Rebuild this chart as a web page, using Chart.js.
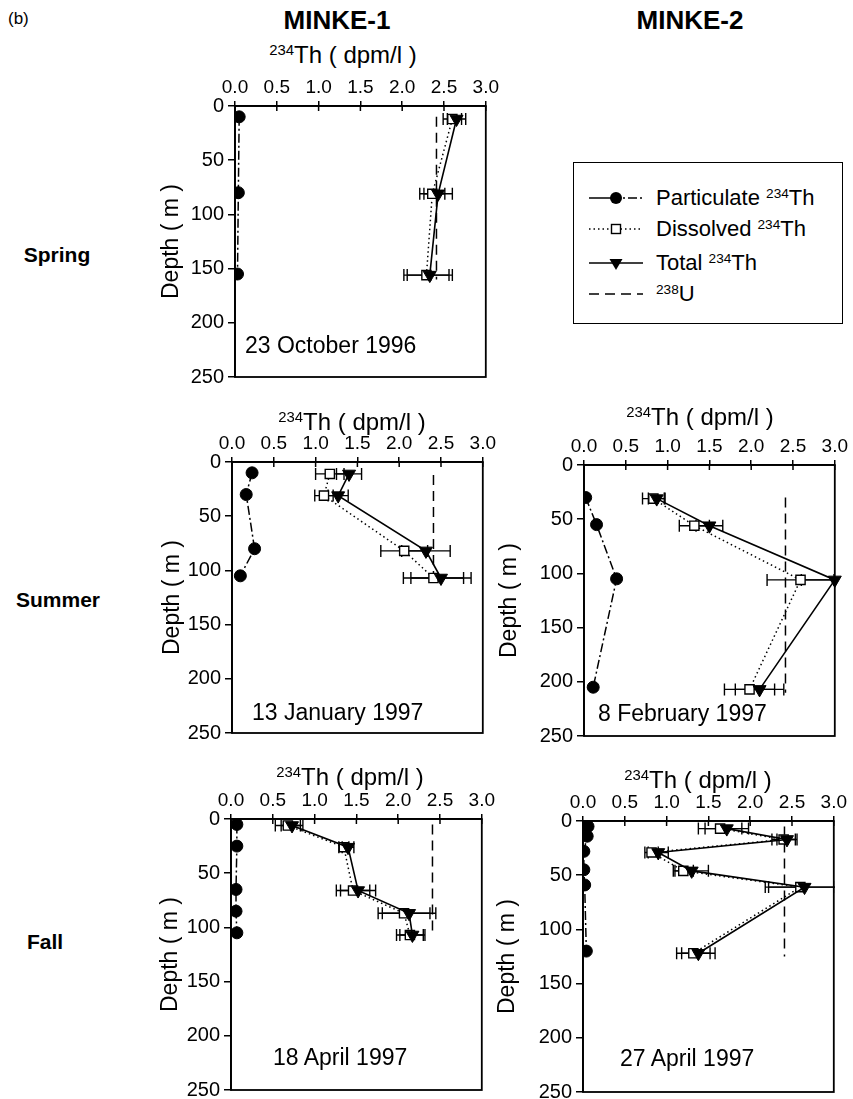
<!DOCTYPE html>
<html>
<head>
<meta charset="utf-8">
<title>234Th profiles at MINKE-1 and MINKE-2</title>
<script src="https://cdn.jsdelivr.net/npm/chart.js@4.4.1/dist/chart.umd.min.js"></script>
<style>
  html, body { margin: 0; padding: 0; background: #fff; }
  body { width: 853px; height: 1099px; position: relative; overflow: hidden;
         font-family: "Liberation Sans", Arial, Helvetica, sans-serif; color: #000; }
  canvas { position: absolute; }
  .t { position: absolute; white-space: nowrap; line-height: 1; }
  .c { transform: translate(-50%, -50%); }
  .l { transform: translateY(-50%); }
  .bold { font-weight: bold; }
  .sup { font-size: 0.62em; position: relative; top: -0.55em; }
  .legend { position: absolute; border: 1.6px solid #000; box-sizing: border-box; }
  .legend svg { position: absolute; }
</style>
</head>
<body>
<script>
// 238U activity (dpm/l), drawn as a vertical reference line
const U238 = 2.41;

// Spring, MINKE-1, 23 October 1996
const springM1PartDepth = [10, 80, 155];
const springM1Part      = [0.05, 0.04, 0.03];
const springM1Depth     = [12, 81, 156];
const springM1Diss      = [2.60, 2.36, 2.29];
const springM1DissErr   = [0.11, 0.15, 0.27];
const springM1Total     = [2.65, 2.43, 2.33];
const springM1TotalErr  = [0.11, 0.17, 0.27];
const springM1UDepth    = [10, 160];

// Summer, MINKE-1, 13 January 1997
const summerM1PartDepth = [10, 30, 80, 105];
const summerM1Part      = [0.24, 0.17, 0.27, 0.10];
const summerM1Depth     = [11, 31, 82, 107];
const summerM1Diss      = [1.17, 1.10, 2.06, 2.41];
const summerM1DissErr   = [0.17, 0.11, 0.28, 0.36];
const summerM1Total     = [1.40, 1.27, 2.32, 2.50];
const summerM1TotalErr  = [0.15, 0.12, 0.29, 0.36];
const summerM1UDepth    = [12, 115];

// Summer, MINKE-2, 8 February 1997
const summerM2PartDepth = [30, 55, 105, 205];
const summerM2Part      = [0.02, 0.15, 0.39, 0.11];
const summerM2Depth     = [31, 56, 106, 207];
const summerM2Diss      = [0.83, 1.32, 2.59, 1.98];
const summerM2DissErr   = [0.13, 0.18, 0.40, 0.30];
const summerM2Total     = [0.87, 1.50, 3.00, 2.10];
const summerM2TotalErr  = [0.10, 0.16, 0.40, 0.29];
const summerM2UDepth    = [30, 210];

// Fall, MINKE-1, 18 April 1997
const fallM1PartDepth = [5, 25, 65, 85, 105];
const fallM1Part      = [0.07, 0.07, 0.06, 0.06, 0.07];
const fallM1Depth     = [6, 26, 66, 87, 107];
const fallM1Diss      = [0.68, 1.35, 1.46, 2.07, 2.14];
const fallM1DissErr   = [0.15, 0.06, 0.20, 0.31, 0.16];
const fallM1Total     = [0.73, 1.40, 1.52, 2.13, 2.17];
const fallM1TotalErr  = [0.13, 0.07, 0.21, 0.32, 0.15];
const fallM1UDepth    = [5, 108];

// Fall, MINKE-2, 27 April 1997
const fallM2PartDepth = [5, 14, 28, 45, 59, 120];
const fallM2Part      = [0.06, 0.05, 0.01, 0.01, 0.02, 0.04];
const fallM2Depth     = [7, 17, 29, 46, 61, 122];
const fallM2Diss      = [1.64, 2.40, 0.82, 1.20, 2.60, 1.32];
const fallM2DissErr   = [0.26, 0.14, 0.08, 0.12, 0.42, 0.20];
const fallM2Total     = [1.72, 2.44, 0.90, 1.30, 2.65, 1.38];
const fallM2TotalErr  = [0.26, 0.12, 0.12, 0.20, 0.43, 0.20];
const fallM2UDepth    = [5, 125];

// Axis ticks
const thTicks    = [0, 0.5, 1.0, 1.5, 2.0, 2.5, 3.0];
const depthTicks = [0, 50, 100, 150, 200, 250];

const FONT = '"Liberation Sans", Arial, Helvetica, sans-serif';
const AREA_W = 251, AREA_H = 271;

// Panel placement (plot-area corner) and the data each panel shows
const panels = [
  { left: 235, top: 106, depthPad: 13, partDepth: springM1PartDepth, part: springM1Part, depth: springM1Depth,
    diss: springM1Diss, dissErr: springM1DissErr, total: springM1Total, totalErr: springM1TotalErr, uDepth: springM1UDepth },
  { left: 232, top: 462, depthPad: 17, partDepth: summerM1PartDepth, part: summerM1Part, depth: summerM1Depth,
    diss: summerM1Diss, dissErr: summerM1DissErr, total: summerM1Total, totalErr: summerM1TotalErr, uDepth: summerM1UDepth },
  { left: 584, top: 465, depthPad: 2, partDepth: summerM2PartDepth, part: summerM2Part, depth: summerM2Depth,
    diss: summerM2Diss, dissErr: summerM2DissErr, total: summerM2Total, totalErr: summerM2TotalErr, uDepth: summerM2UDepth },
  { left: 231, top: 819, depthPad: 16, partDepth: fallM1PartDepth, part: fallM1Part, depth: fallM1Depth,
    diss: fallM1Diss, dissErr: fallM1DissErr, total: fallM1Total, totalErr: fallM1TotalErr, uDepth: fallM1UDepth },
  { left: 583, top: 821, depthPad: 1, partDepth: fallM2PartDepth, part: fallM2Part, depth: fallM2Depth,
    diss: fallM2Diss, dissErr: fallM2DissErr, total: fallM2Total, totalErr: fallM2TotalErr, uDepth: fallM2UDepth }
];

// Horizontal error bars under the markers, plus the closed frame and inward top ticks
const panelPlugin = {
  id: 'panelFrame',
  beforeDatasetsDraw(chart) {
    const { ctx, chartArea: a } = chart;
    const xs = chart.scales.x, ys = chart.scales.y;
    ctx.save();
    ctx.beginPath();
    ctx.rect(a.left, a.top - 8, a.right - a.left + 1, a.bottom - a.top + 16);
    ctx.clip();
    ctx.strokeStyle = '#000';
    ctx.lineWidth = 1.4;
    chart.data.datasets.forEach(ds => {
      if (!ds.errorX) return;
      ds.data.forEach((pt, i) => {
        const e = ds.errorX[i];
        const x0 = xs.getPixelForValue(pt.x - e);
        const x1 = xs.getPixelForValue(pt.x + e);
        const yy = ys.getPixelForValue(pt.y);
        ctx.beginPath();
        ctx.moveTo(x0, yy); ctx.lineTo(x1, yy);
        ctx.moveTo(x0, yy - 6); ctx.lineTo(x0, yy + 6);
        ctx.moveTo(x1, yy - 6); ctx.lineTo(x1, yy + 6);
        ctx.stroke();
      });
    });
    ctx.restore();
  },
  afterDraw(chart) {
    const { ctx, chartArea: a } = chart;
    const xs = chart.scales.x;
    ctx.save();
    ctx.strokeStyle = '#000';
    ctx.lineWidth = 1.8;
    ctx.strokeRect(a.left, a.top, a.right - a.left, a.bottom - a.top);
    ctx.lineWidth = 1.5;
    ctx.beginPath();
    xs.ticks.forEach(t => {
      const px = xs.getPixelForValue(t.value);
      ctx.moveTo(px, a.top);
      ctx.lineTo(px, a.top + 5);
    });
    ctx.stroke();
    ctx.restore();
  }
};

function panelConfig(p) {
  const pts = (xs, ys) => xs.map((v, i) => ({ x: v, y: ys[i] }));
  return {
    type: 'scatter',
    data: {
      datasets: [
        { label: 'Total 234Th', data: pts(p.total, p.depth), errorX: p.totalErr, showLine: true,
          borderColor: '#000', borderWidth: 1.6, clip: false,
          pointStyle: 'triangle', pointRotation: 180, pointRadius: 7.5,
          pointBackgroundColor: '#000', pointBorderColor: '#000', pointBorderWidth: 1 },
        { label: 'Dissolved 234Th', data: pts(p.diss, p.depth), errorX: p.dissErr, showLine: true,
          borderColor: '#000', borderWidth: 1.5, borderDash: [1.5, 3],
          pointStyle: 'rect', pointRadius: 6.5,
          pointBackgroundColor: '#fff', pointBorderColor: '#000', pointBorderWidth: 1.4 },
        { label: 'Particulate 234Th', data: pts(p.part, p.partDepth), showLine: true,
          borderColor: '#000', borderWidth: 1.5, borderDash: [9, 3, 2, 3],
          pointStyle: 'circle', pointRadius: 6,
          pointBackgroundColor: '#000', pointBorderColor: '#000', pointBorderWidth: 1 },
        { label: '238U', data: [{ x: U238, y: p.uDepth[0] }, { x: U238, y: p.uDepth[1] }], showLine: true,
          borderColor: '#000', borderWidth: 1.5, borderDash: [10, 6], pointRadius: 0 }
      ]
    },
    options: {
      responsive: false,
      maintainAspectRatio: false,
      animation: false,
      devicePixelRatio: 1,
      events: [],
      layout: { padding: { left: 0, top: 0, right: 4, bottom: 4 } },
      plugins: { legend: { display: false }, tooltip: { enabled: false } },
      scales: {
        x: {
          type: 'linear', position: 'top',
          min: thTicks[0], max: thTicks[thTicks.length - 1],
          afterBuildTicks: s => { s.ticks = thTicks.map(v => ({ value: v })); },
          ticks: { callback: v => Number(v).toFixed(1), color: '#000', padding: 2,
                   maxRotation: 0, autoSkip: false, font: { family: FONT, size: 19 } },
          grid: { drawOnChartArea: false, tickLength: 5, color: '#000', lineWidth: 1.5 },
          border: { color: '#000', width: 1.8 },
          afterFit: s => { s.height = 30; }
        },
        y: {
          type: 'linear', reverse: true,
          min: depthTicks[0], max: depthTicks[depthTicks.length - 1],
          afterBuildTicks: s => { s.ticks = depthTicks.map(v => ({ value: v })); },
          ticks: { color: '#000', padding: 4, autoSkip: false, font: { family: FONT, size: 20 } },
          grid: { drawOnChartArea: false, tickLength: 7, color: '#000', lineWidth: 1.5 },
          border: { color: '#000', width: 1.8 },
          title: { display: true, text: 'Depth ( m )', color: '#000',
                   font: { family: FONT, size: 23 }, padding: { top: p.depthPad, bottom: 0 } },
          afterFit: s => { s.width = 90; }
        }
      }
    },
    plugins: [panelPlugin]
  };
}

// Build each panel, then size and place its canvas so the plot area lands on the grid
panels.forEach(p => {
  const canvas = document.createElement('canvas');
  canvas.width = 90 + AREA_W + 30;
  canvas.height = 30 + AREA_H + 24;
  document.body.appendChild(canvas);
  let chart = new Chart(canvas, panelConfig(p));
  let a = chart.chartArea;
  const w = canvas.width + (AREA_W - (a.right - a.left));
  const h = canvas.height + (AREA_H - (a.bottom - a.top));
  chart.destroy();
  canvas.width = Math.round(w);
  canvas.height = Math.round(h);
  canvas.style.width = canvas.width + 'px';
  canvas.style.height = canvas.height + 'px';
  chart = new Chart(canvas, panelConfig(p));
  a = chart.chartArea;
  canvas.style.left = Math.round(p.left - a.left) + 'px';
  canvas.style.top = Math.round(p.top - a.top) + 'px';
});

// Text placed on the page
function addText(html, x, y, size, cls) {
  const d = document.createElement('div');
  d.className = 't ' + cls;
  d.style.left = x + 'px';
  d.style.top = y + 'px';
  d.style.fontSize = size + 'px';
  d.innerHTML = html;
  document.body.appendChild(d);
}

addText('(b)', 8, 18, 17, 'l');
addText('MINKE-1', 337, 20, 26, 'c bold');
addText('MINKE-2', 690, 20, 26, 'c bold');
addText('Spring', 57, 254, 21, 'c bold');
addText('Summer', 58, 599, 21, 'c bold');
addText('Fall', 45, 941, 21, 'c bold');

const thTitle = '<span class="sup">234</span>Th ( dpm/l )';
addText(thTitle, 343, 55, 24, 'c');
addText(thTitle, 352, 422, 24, 'c');
addText(thTitle, 700, 417, 24, 'c');
addText(thTitle, 350, 777, 24, 'c');
addText(thTitle, 698, 780, 24, 'c');

addText('23 October 1996', 245, 345, 23, 'l');
addText('13 January 1997', 252, 712, 23, 'l');
addText('8 February 1997', 598, 713, 23, 'l');
addText('18 April 1997', 273, 1057, 23, 'l');
addText('27 April 1997', 620, 1058, 23, 'l');

// Legend box
const legend = document.createElement('div');
legend.className = 'legend';
legend.style.left = '573px';
legend.style.top = '162px';
legend.style.width = '270px';
legend.style.height = '162px';
document.body.appendChild(legend);

const legendRows = [
  { y: 35, text: 'Particulate <span class="sup">234</span>Th',
    svg: '<line x1="0" y1="9" x2="22" y2="9" stroke="#000" stroke-width="1.5"/>' +
         '<line x1="34" y1="9" x2="54" y2="9" stroke="#000" stroke-width="1.5" stroke-dasharray="2,3,9,3"/>' +
         '<circle cx="27" cy="9" r="6" fill="#000"/>' },
  { y: 66, text: 'Dissolved <span class="sup">234</span>Th',
    svg: '<line x1="0" y1="9" x2="54" y2="9" stroke="#000" stroke-width="1.5" stroke-dasharray="1.5,3"/>' +
         '<rect x="22.5" y="4.5" width="9" height="9" fill="#fff" stroke="#000" stroke-width="1.4"/>' },
  { y: 100, text: 'Total <span class="sup">234</span>Th',
    svg: '<line x1="0" y1="9" x2="54" y2="9" stroke="#000" stroke-width="1.6"/>' +
         '<polygon points="20.5,5 33.5,5 27,16" fill="#000"/>' },
  { y: 131, text: '<span class="sup">238</span>U',
    svg: '<line x1="0" y1="9" x2="54" y2="9" stroke="#000" stroke-width="1.5" stroke-dasharray="10,6"/>' }
];
legendRows.forEach(r => {
  const s = document.createElementNS('http://www.w3.org/2000/svg', 'svg');
  s.setAttribute('width', '54');
  s.setAttribute('height', '18');
  s.style.left = '15px';
  s.style.top = (r.y - 9) + 'px';
  s.innerHTML = r.svg;
  legend.appendChild(s);
  const d = document.createElement('div');
  d.className = 't l';
  d.style.left = '82px';
  d.style.top = r.y + 'px';
  d.style.fontSize = '22px';
  d.innerHTML = r.text;
  legend.appendChild(d);
});
</script>
</body>
</html>
